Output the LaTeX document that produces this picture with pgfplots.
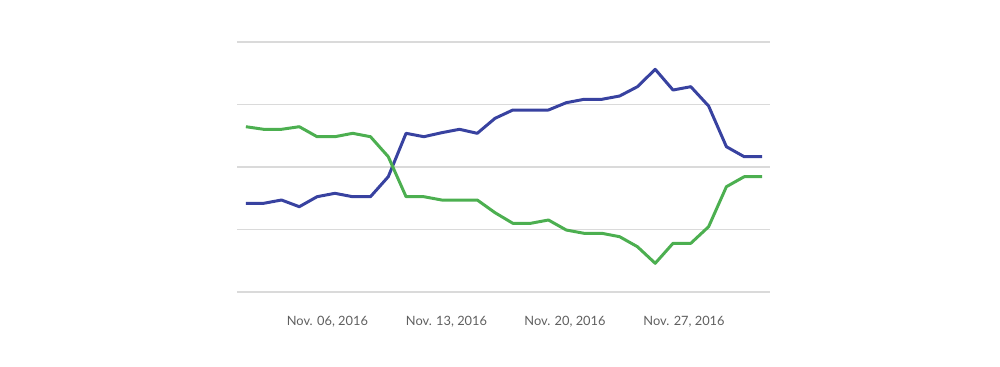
\documentclass[border=0pt]{standalone}
\usepackage{pgfplots}
\pgfplotsset{compat=1.18}
\usepackage{fontspec}
\setmainfont{Lato}
\definecolor{blueline}{RGB}{56,66,160}
\definecolor{greenline}{RGB}{76,175,80}
\definecolor{gridc}{RGB}{218,218,218}
\definecolor{labc}{RGB}{95,95,95}
\begin{document}
\begin{tikzpicture}
\useasboundingbox (0,0) rectangle (20cm,7.32cm);
\begin{axis}[
  at={(4.74cm,1.48cm)}, anchor=south west,
  scale only axis, width=10.66cm, height=5.0cm,
  xmin=-0.5, xmax=29.45, ymin=0, ymax=250,
  axis line style={draw=none},
  tick style={draw=none},
  ytick={0,62.5,125,187.5,250}, yticklabels={},
  ymajorgrids, grid style={gridc, line width=0.8pt},
  xtick={4.58,11.27,17.93,24.62},
  xticklabels={{Nov. 06, 2016}, {Nov. 13, 2016}, {Nov. 20, 2016}, {Nov. 27, 2016}},
  xticklabel style={anchor=base, yshift=-0.66cm, text=labc, font=\fontsize{7.3}{9}\selectfont},
  clip=false,
]
\addplot[blueline, line width=1.7pt, line join=round] coordinates {
(0,88.7)(1,88.7)(2,92)(3,85.3)(4,95.3)(5,98.7)(6,95.3)(7,95.3)(8,115.3)(9,158.7)
(10,155.3)(11,159.3)(12,162.7)(13,158.7)(14,173.7)(15,182)(16,182)(17,182)(18,189.3)(19,192.7)
(20,192.7)(21,196)(22,205.3)(23,222.7)(24,202)(25,205.3)(26,186)(27,145.3)(28,135.3)(29,135.3)};
\addplot[greenline, line width=1.7pt, line join=round] coordinates {
(0,165.3)(1,162.7)(2,162.7)(3,165.3)(4,155.3)(5,155.3)(6,158.7)(7,155.3)(8,135.3)(9,95.3)
(10,95.3)(11,92)(12,92)(13,92)(14,79.3)(15,68.7)(16,68.7)(17,72)(18,62)(19,58.7)
(20,58.7)(21,55.3)(22,45.3)(23,28.7)(24,48.7)(25,48.7)(26,65.3)(27,105.3)(28,115.3)(29,115.3)};
\end{axis}
\end{tikzpicture}
\end{document}
